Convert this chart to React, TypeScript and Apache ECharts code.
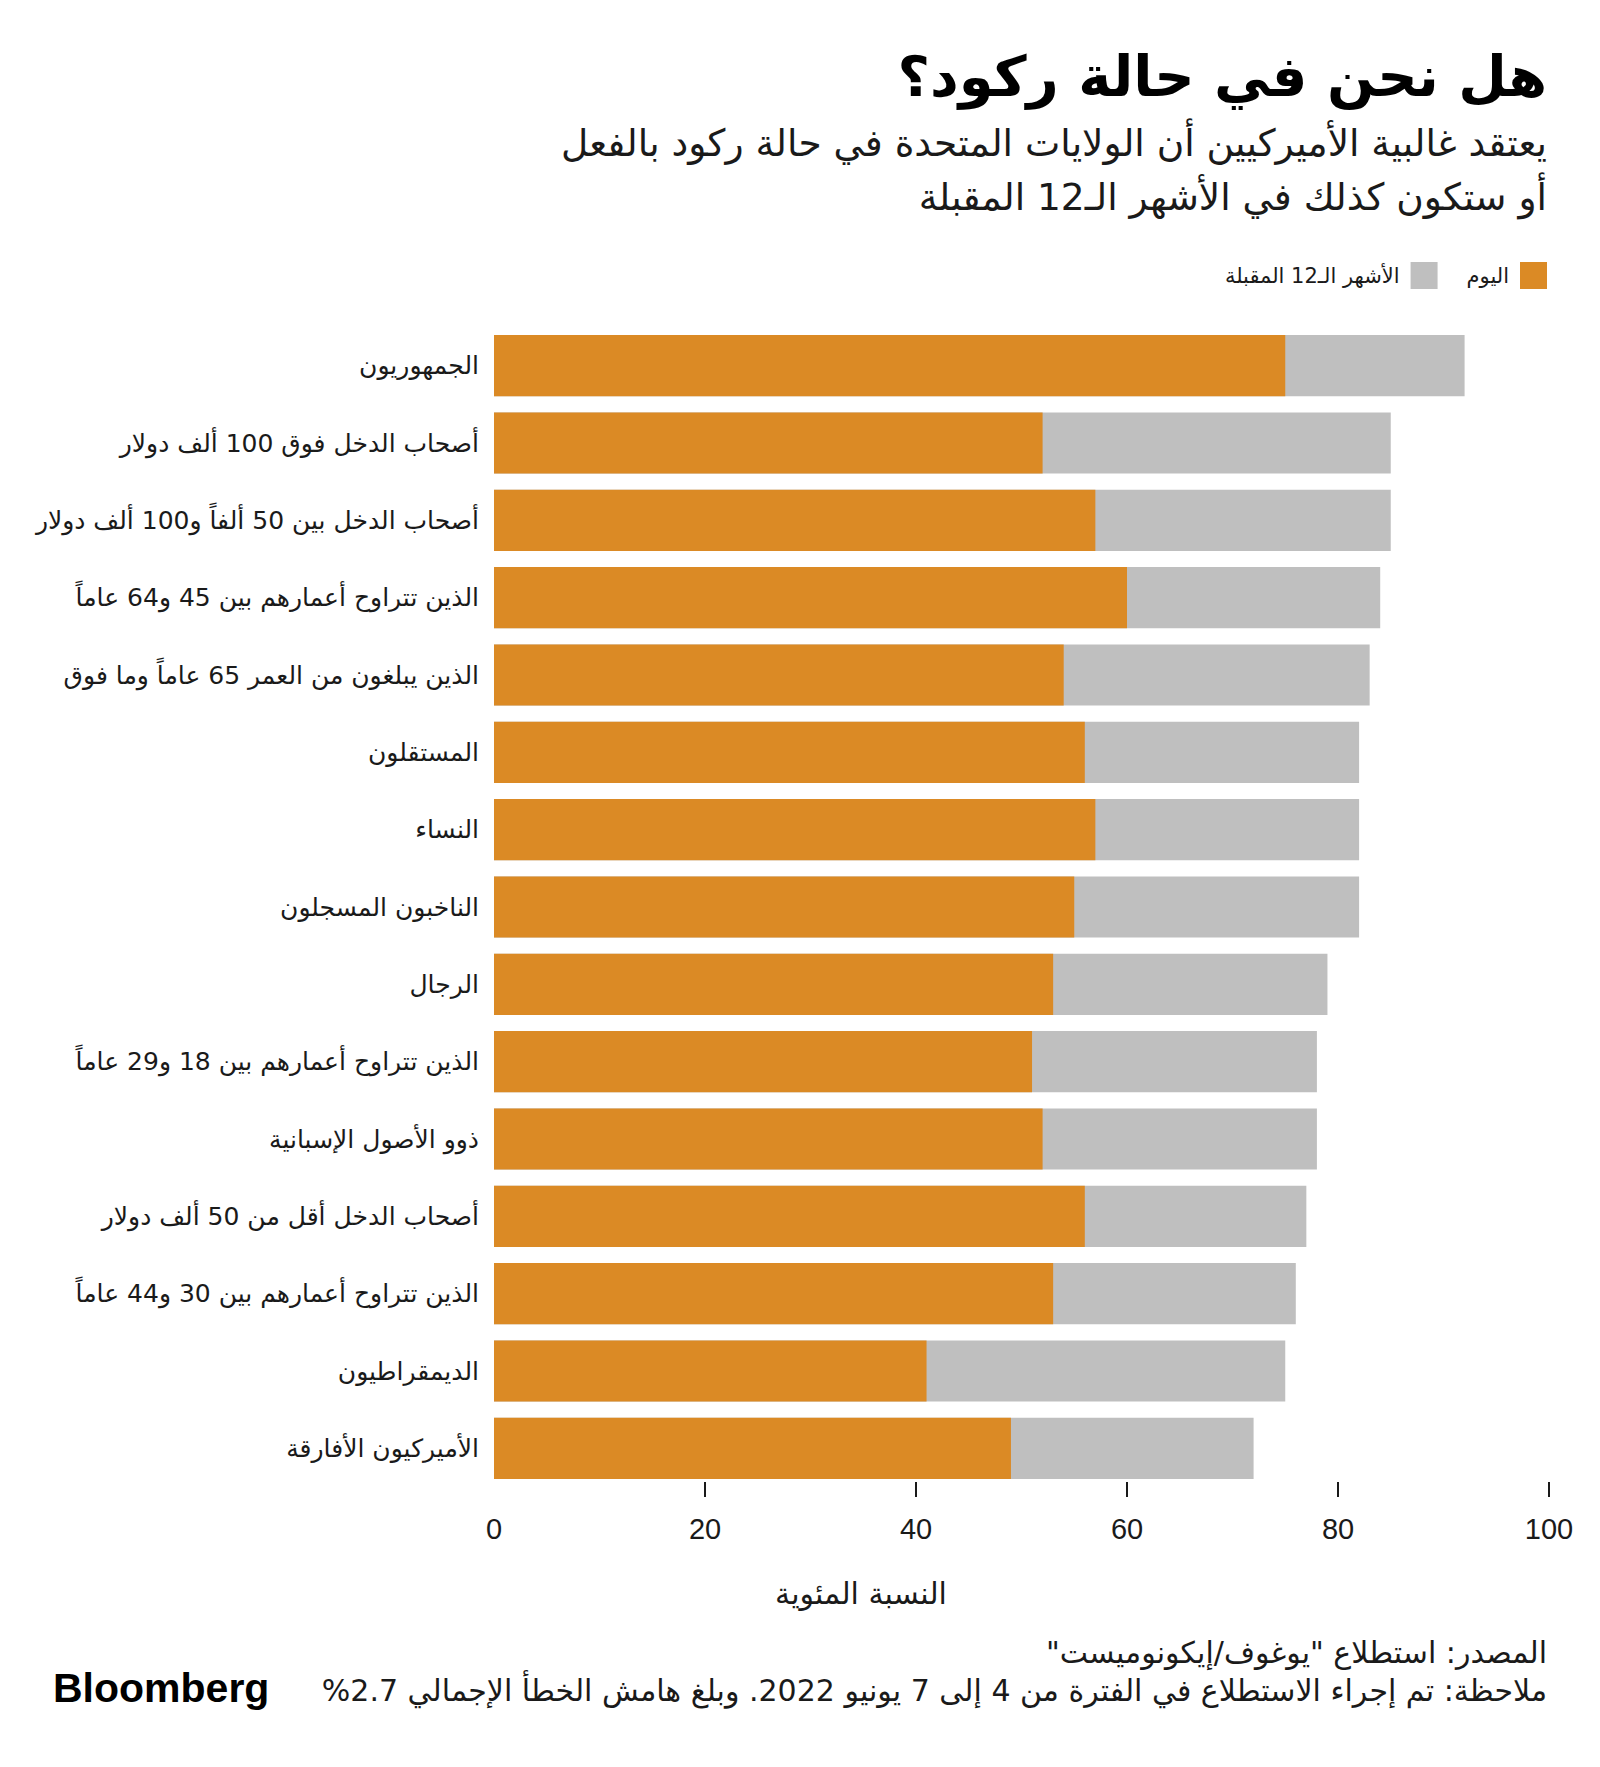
import React, { useEffect, useRef } from "react";
import * as echarts from "echarts";

const categories: string[] = [
  "الجمهوريون",
  "أصحاب الدخل فوق 100 ألف دولار",
  "أصحاب الدخل بين 50 ألفاً و100 ألف دولار",
  "الذين تتراوح أعمارهم بين 45 و64 عاماً",
  "الذين يبلغون من العمر 65 عاماً وما فوق",
  "المستقلون",
  "النساء",
  "الناخبون المسجلون",
  "الرجال",
  "الذين تتراوح أعمارهم بين 18 و29 عاماً",
  "ذوو الأصول الإسبانية",
  "أصحاب الدخل أقل من 50 ألف دولار",
  "الذين تتراوح أعمارهم بين 30 و44 عاماً",
  "الديمقراطيون",
  "الأميركيون الأفارقة",
];

// "Today" share (%)
const todayValues: number[] = [75, 52, 57, 60, 54, 56, 57, 55, 53, 51, 52, 56, 53, 41, 49];
// Today + within the next 12 months (%)
const next12Values: number[] = [92, 85, 85, 84, 83, 82, 82, 82, 79, 78, 78, 77, 76, 75, 72];

const xTicks: number[] = [20, 40, 60, 80, 100];

const seriesTodayName = "اليوم";
const seriesNextName = "الأشهر الـ12 المقبلة";

const titleText = "هل نحن في حالة ركود؟";
const subtitle1 = "يعتقد غالبية الأميركيين أن الولايات المتحدة في حالة ركود بالفعل";
const subtitle2 = "أو ستكون كذلك في الأشهر الـ12 المقبلة";
const axisNameText = "النسبة المئوية";
const sourceText = 'المصدر: استطلاع "يوغوف/إيكونوميست"';
const noteText = "ملاحظة: تم إجراء الاستطلاع في الفترة من 4 إلى 7 يونيو 2022. وبلغ هامش الخطأ الإجمالي 2.7%";

const RLM = "\u200F";
const rtl = (s: string) => RLM + s + RLM;

const ORANGE = "#DB8A25";
const GRAY = "#BFBFBF";
const INK = "#1a1a1a";
const FONT = "'DejaVu Sans', 'Liberation Sans', sans-serif";
const NUMFONT = "'Liberation Sans', 'DejaVu Sans', sans-serif";

export default function App() {
  const ref = useRef<HTMLDivElement>(null);

  useEffect(() => {
    document.body.style.margin = "0";
    if (!ref.current) return;
    const chart = echarts.init(ref.current, undefined, { renderer: "svg" });
    const option: any = {
      animation: false,
      backgroundColor: "#ffffff",
      legend: {
        data: [seriesNextName, seriesTodayName],
        right: 48,
        top: 257,
        align: "right",
        itemWidth: 27,
        itemHeight: 27,
        itemGap: 29,
        icon: "rect",
        textStyle: {
          fontFamily: FONT,
          fontSize: 21,
          color: INK,
          padding: [0, 6, 0, 0],
        },
        selectedMode: false,
      },
      grid: {
        left: 494,
        right: 51,
        top: 327,
        bottom: 280,
        containLabel: false,
      },
      xAxis: {
        type: "value",
        min: 0,
        max: 100,
        interval: 20,
        offset: -5,
        axisLine: { show: false },
        splitLine: { show: false },
        axisTick: {
          show: true,
          length: 15,
          customValues: xTicks,
          lineStyle: { color: INK, width: 2 },
        },
        axisLabel: {
          fontFamily: NUMFONT,
          fontSize: 29,
          color: INK,
          margin: 32,
        },
      },
      yAxis: {
        type: "category",
        data: categories,
        inverse: true,
        axisLine: { show: false },
        axisTick: { show: false },
        axisLabel: {
          fontFamily: FONT,
          fontSize: 25,
          color: INK,
          margin: 15,
          formatter: (v: string) => rtl(v),
        },
      },
      series: [
        {
          name: seriesNextName,
          type: "bar",
          data: next12Values,
          itemStyle: { color: GRAY },
          barCategoryGap: "21%",
          barGap: "-100%",
          silent: true,
        },
        {
          name: seriesTodayName,
          type: "bar",
          data: todayValues,
          itemStyle: { color: ORANGE },
          barCategoryGap: "21%",
          barGap: "-100%",
          silent: true,
        },
      ],
      graphic: [
        {
          type: "text",
          x: 1547,
          y: 76,
          style: {
            text: rtl(titleText),
            textAlign: "right",
            textVerticalAlign: "middle",
            font: `bold 56px ${FONT}`,
            fill: "#000",
          },
        },
        {
          type: "text",
          x: 1547,
          y: 143,
          style: {
            text: rtl(subtitle1),
            textAlign: "right",
            textVerticalAlign: "middle",
            font: `37.5px ${FONT}`,
            fill: INK,
          },
        },
        {
          type: "text",
          x: 1547,
          y: 197,
          style: {
            text: rtl(subtitle2),
            textAlign: "right",
            textVerticalAlign: "middle",
            font: `37.5px ${FONT}`,
            fill: INK,
          },
        },
        {
          type: "text",
          x: 861,
          y: 1593,
          style: {
            text: rtl(axisNameText),
            textAlign: "center",
            textVerticalAlign: "middle",
            font: `30px ${FONT}`,
            fill: INK,
          },
        },
        {
          type: "text",
          x: 1547,
          y: 1652,
          style: {
            text: rtl(sourceText),
            textAlign: "right",
            textVerticalAlign: "middle",
            font: `30px ${FONT}`,
            fill: INK,
          },
        },
        {
          type: "text",
          x: 1547,
          y: 1690,
          style: {
            text: rtl(noteText),
            textAlign: "right",
            textVerticalAlign: "middle",
            font: `30px ${FONT}`,
            fill: INK,
          },
        },
        {
          type: "text",
          x: 53,
          y: 1688,
          style: {
            text: "Bloomberg",
            textAlign: "left",
            textVerticalAlign: "middle",
            font: `bold 41px 'Liberation Sans', Arial, sans-serif`,
            fill: "#000",
          },
        },
      ],
    };
    chart.setOption(option);
    return () => chart.dispose();
  }, []);

  return <div ref={ref} style={{ width: 1600, height: 1767 }} />;
}
